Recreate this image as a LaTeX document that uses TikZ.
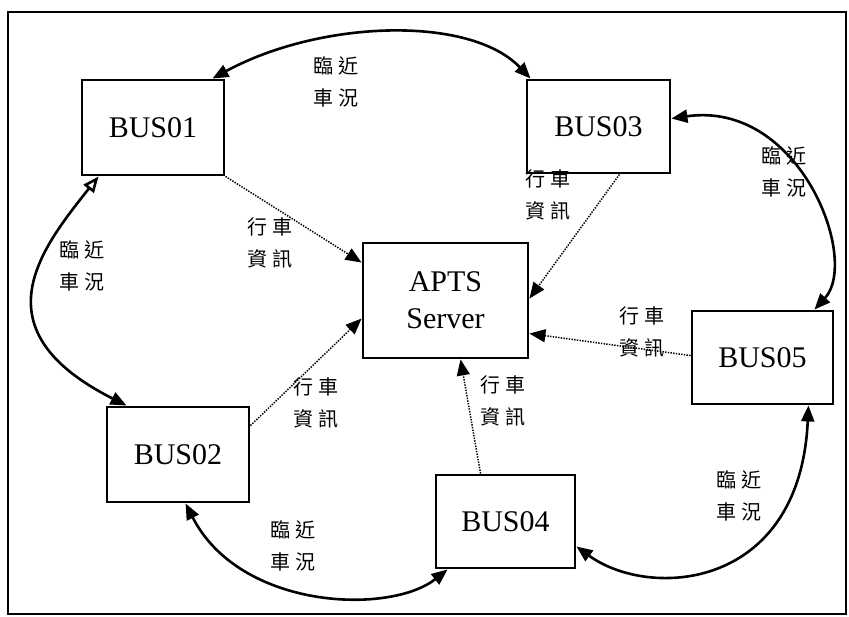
\documentclass[tikz,border=0pt]{standalone}
\usepackage{fontspec}
\setmainfont{Liberation Serif}
\newfontfamily\cjk{Noto Sans CJK TC}
\usetikzlibrary{arrows.meta}
\tikzset{
  busbox/.style={draw, line width=2.9pt, minimum width=142pt, minimum height=95pt, inner sep=0pt,
    font=\fontsize{30}{36}\selectfont},
  lab/.style={font=\cjk\fontsize{20}{32}\selectfont, align=center, inner sep=0pt},
  prox/.style={line width=2.6pt, {Triangle[length=16pt,width=13pt]}-{Triangle[length=16pt,width=13pt]}},
  proxopen/.style={line width=2.6pt, {Triangle[open,fill=white,length=16pt,width=13pt]}-{Triangle[length=16pt,width=13pt]}},
  infoarrow/.style={line width=1.5pt, dash pattern=on 1.4pt off 1.3pt, -{Triangle[length=16pt,width=13pt]}}
}
\begin{document}
\begin{tikzpicture}[x=1pt,y=-1pt]
\useasboundingbox (0,0) rectangle (849,616);
\draw[line width=2.4pt] (8,12) rectangle (846,614);
% boxes
\node[busbox] (b1) at (153,127.5) {BUS01};
\node[busbox] (b2) at (178,454.5) {BUS02};
\node[busbox, minimum width=143pt, minimum height=93pt] (b3) at (598.5,126.5) {BUS03};
\node[busbox, minimum width=139pt, minimum height=93pt] (b4) at (505.5,521.5) {BUS04};
\node[busbox, minimum width=141pt, minimum height=93pt] (b5) at (762.5,357.5) {BUS05};
\node[busbox, minimum width=165pt, minimum height=115pt, align=center, font=\fontsize{30}{37}\selectfont] (apts) at (445.5,300.5) {APTS\\Server};
% labels
\node[lab] (l1) at (336,82) {臨\hspace{5pt}近\\車\hspace{5pt}況};
\node[lab] (l2) at (82,266) {臨\hspace{5pt}近\\車\hspace{5pt}況};
\node[lab] (l3) at (293,546) {臨\hspace{5pt}近\\車\hspace{5pt}況};
\node[lab] (l4) at (739,496) {臨\hspace{5pt}近\\車\hspace{5pt}況};
\node[lab] (l5) at (784,172) {臨\hspace{5pt}近\\車\hspace{5pt}況};
\node[lab] (i1) at (270,243) {行\hspace{5pt}車\\資\hspace{5pt}訊};
\node[lab] (i2) at (316,403) {行\hspace{5pt}車\\資\hspace{5pt}訊};
\node[lab] (i3) at (548,195) {行\hspace{5pt}車\\資\hspace{5pt}訊};
\node[lab] (i4) at (642,332) {行\hspace{5pt}車\\資\hspace{5pt}訊};
\node[lab] (i5) at (503,401) {行\hspace{5pt}車\\資\hspace{5pt}訊};
% proximity (solid) connectors
\draw[prox] ([xshift=-13pt]b1.north east) .. controls (320,20) and (470,15) .. ([xshift=5pt]b3.north west);
\draw[proxopen] ([xshift=18pt]b1.south west) .. controls (40,250) and (-23,330) .. ([xshift=21pt]b2.north west);
\draw[prox] ([xshift=80pt]b2.south west) .. controls (240,610) and (390,615) .. ([xshift=13pt]b4.south west);
\draw[prox] ([yshift=-25pt]b4.east) .. controls (650,600) and (800,590) .. ([xshift=-26pt]b5.south east);
\draw[prox] ([yshift=8pt]b3.east) .. controls (800,100) and (860,260) .. ([xshift=-20pt]b5.north east);
% information (dotted) connectors
\draw[infoarrow] (b1.south east) -- ([yshift=-21pt]apts.north west);
\draw[infoarrow] ([yshift=-20pt]b2.north east) -- ([yshift=-77pt]apts.north west);
\draw[infoarrow] ([xshift=-52pt]b3.south east) -- ([yshift=-57pt]apts.north east);
\draw[infoarrow] ([yshift=-46pt]b5.north west) -- ([yshift=-92pt]apts.north east);
\draw[infoarrow] ([xshift=46pt]b4.north west) -- ([xshift=99pt]apts.south west);
\end{tikzpicture}
\end{document}
